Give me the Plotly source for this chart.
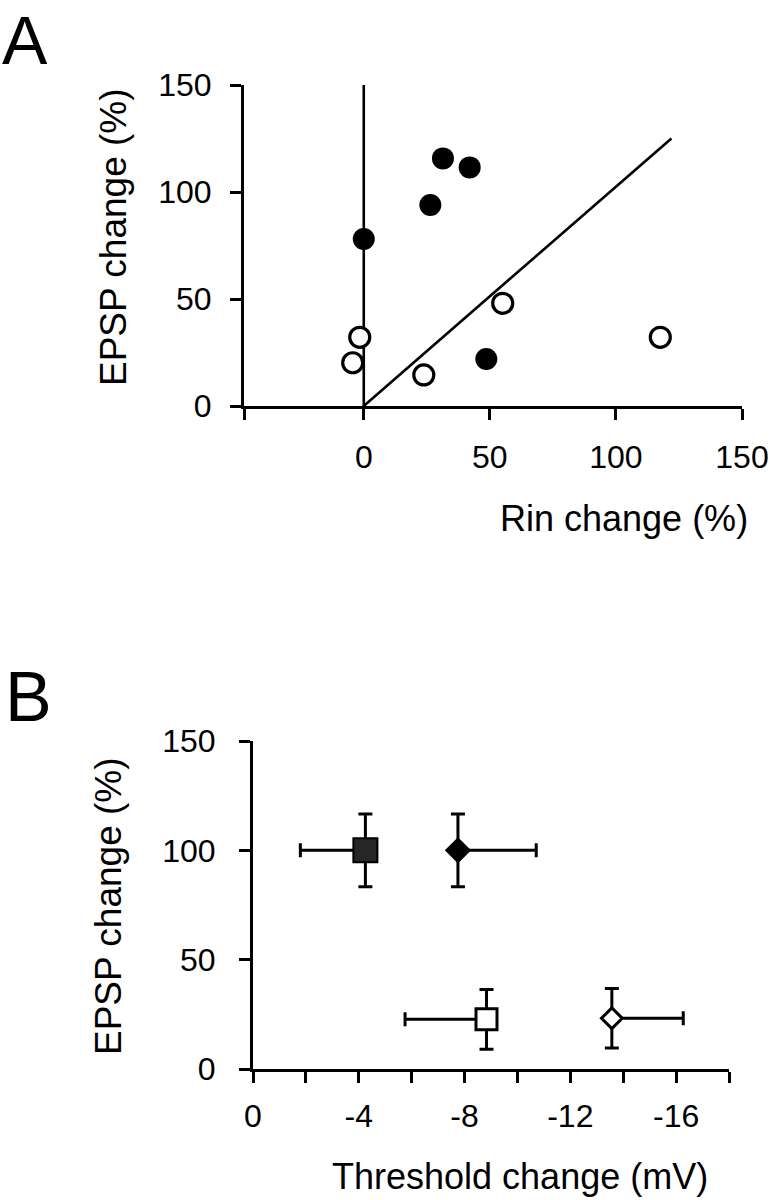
import plotly.graph_objects as go

# ---------------- Data ----------------
# Panel A: EPSP change vs Rin change
a_filled_rin = [0, 31.4, 42.0, 26.4, 48.6]
a_filled_epsp = [78.0, 115.7, 111.5, 93.9, 22.0]
a_open_rin = [-1.6, -4.4, 23.8, 55.1, 117.6]
a_open_epsp = [32.1, 20.2, 14.5, 48.0, 32.1]
a_vline_x = [0, 0]
a_vline_y = [0, 150]
a_diag_x = [0, 122]
a_diag_y = [0, 125]
a_xticks = [-47.5, 0, 50, 100, 150]
a_xticklabels = ["", "0", "50", "100", "150"]
a_yticks = [0, 50, 100, 150]

# Panel B: EPSP change vs threshold change (mean +/- error)
b_names = ["grey square", "filled diamond", "open square", "open diamond"]
b_thr = [-4.25, -7.75, -8.83, -13.57]
b_epsp = [100, 100, 22.7, 23.2]
b_thr_err_plus = [2.46, 0, 3.08, 0]
b_thr_err_minus = [0, 2.96, 0, 2.7]
b_epsp_err = [16.6, 16.6, 13.7, 13.6]
b_xticks = [0, -4, -8, -12, -16]
b_xticklabels = ["0", "-4", "-8", "-12", "-16"]
b_yticks = [0, 50, 100, 150]

W, H = 776, 1200
FONT = "Liberation Sans, Arial, sans-serif"


def px_x(p):
    return p / W


def px_y(p):
    return 1 - p / H


fig = go.Figure()

# ---- Panel A traces ----
fig.add_trace(go.Scatter(x=a_vline_x, y=a_vline_y, mode="lines",
                         line=dict(color="black", width=2.6),
                         xaxis="x", yaxis="y", showlegend=False, hoverinfo="skip"))
fig.add_trace(go.Scatter(x=a_diag_x, y=a_diag_y, mode="lines",
                         line=dict(color="black", width=2.6),
                         xaxis="x", yaxis="y", showlegend=False, hoverinfo="skip"))
fig.add_trace(go.Scatter(x=a_filled_rin, y=a_filled_epsp, mode="markers",
                         marker=dict(symbol="circle", size=22, color="black",
                                     line=dict(width=0)),
                         xaxis="x", yaxis="y", showlegend=False))
fig.add_trace(go.Scatter(x=a_open_rin, y=a_open_epsp, mode="markers",
                         marker=dict(symbol="circle", size=20, color="white",
                                     line=dict(width=3.2, color="black")),
                         xaxis="x", yaxis="y", showlegend=False))

# ---- Panel B traces ----
b_symbols = ["square", "diamond", "square", "diamond"]
b_fill = ["#262626", "black", "white", "white"]
b_sizes = [24, 18, 21, 16]
b_lw = [2, 2, 3, 3]
for i in range(len(b_names)):
    fig.add_trace(go.Scatter(
        x=[b_thr[i]], y=[b_epsp[i]], mode="markers", name=b_names[i],
        marker=dict(symbol=b_symbols[i], size=b_sizes[i], color=b_fill[i],
                    line=dict(width=b_lw[i], color="black")),
        error_x=dict(type="data", symmetric=False,
                     array=[b_thr_err_plus[i]], arrayminus=[b_thr_err_minus[i]],
                     color="black", thickness=3, width=7),
        error_y=dict(type="data", array=[b_epsp_err[i]],
                     color="black", thickness=3, width=7),
        xaxis="x2", yaxis="y2", showlegend=False))

axis_common = dict(showline=True, linecolor="black", linewidth=3,
                   ticks="outside", tickcolor="black", tickwidth=3, ticklen=11,
                   showgrid=False, zeroline=False, automargin=False,
                   tickfont=dict(family=FONT, size=32, color="black"))

fig.update_layout(
    template="none",
    width=W, height=H,
    margin=dict(l=0, r=0, t=0, b=0, pad=0, autoexpand=False),
    paper_bgcolor="white", plot_bgcolor="white",
    showlegend=False,
    font=dict(family=FONT, color="black"),
    xaxis=dict(domain=[px_x(244), px_x(742)], range=[-47.5, 150],
               tickvals=a_xticks, ticktext=a_xticklabels,
               ticklabelstandoff=10, anchor="y", **axis_common),
    yaxis=dict(domain=[px_y(406), px_y(85)], range=[0, 150],
               tickvals=a_yticks, ticklabelstandoff=12, anchor="x", **axis_common),
    xaxis2=dict(domain=[px_x(253), px_x(729)], range=[0, -18],
                tickvals=b_xticks, ticktext=b_xticklabels, ticklabelstandoff=6,
                minor=dict(dtick=2, ticks="outside", ticklen=11, tickwidth=3,
                           tickcolor="black", showgrid=False),
                anchor="y2", **axis_common),
    yaxis2=dict(domain=[px_y(1069), px_y(741)], range=[0, 150],
                tickvals=b_yticks, ticklabelstandoff=17, anchor="x2", **axis_common),
)

ann = []
# Panel letters
ann.append(dict(text="A", x=px_x(0), y=px_y(0), xanchor="left", yanchor="top",
                font=dict(family=FONT, size=68, color="black")))
ann.append(dict(text="B", x=px_x(3), y=px_y(697), xanchor="left", yanchor="middle",
                font=dict(family=FONT, size=70, color="black")))
# Panel A titles
ann.append(dict(text="EPSP change (%)", x=px_x(113), y=px_y(237), textangle=-90,
                xanchor="center", yanchor="middle",
                font=dict(family=FONT, size=37, color="black")))
ann.append(dict(text="Rin change (%)", x=px_x(750), y=px_y(518),
                xanchor="right", yanchor="middle",
                font=dict(family=FONT, size=36, color="black")))
# Panel B titles
ann.append(dict(text="EPSP change (%)", x=px_x(108), y=px_y(906), textangle=-90,
                xanchor="center", yanchor="middle",
                font=dict(family=FONT, size=37, color="black")))
ann.append(dict(text="Threshold change (mV)", x=px_x(710), y=px_y(1176),
                xanchor="right", yanchor="middle",
                font=dict(family=FONT, size=36, color="black")))
for a in ann:
    a.update(xref="paper", yref="paper", showarrow=False)
fig.update_layout(annotations=ann)

fig.write_html("out.html",
               config={"displayModeBar": False},
               post_script="document.body.style.margin='0px';document.body.style.overflow='hidden';")
